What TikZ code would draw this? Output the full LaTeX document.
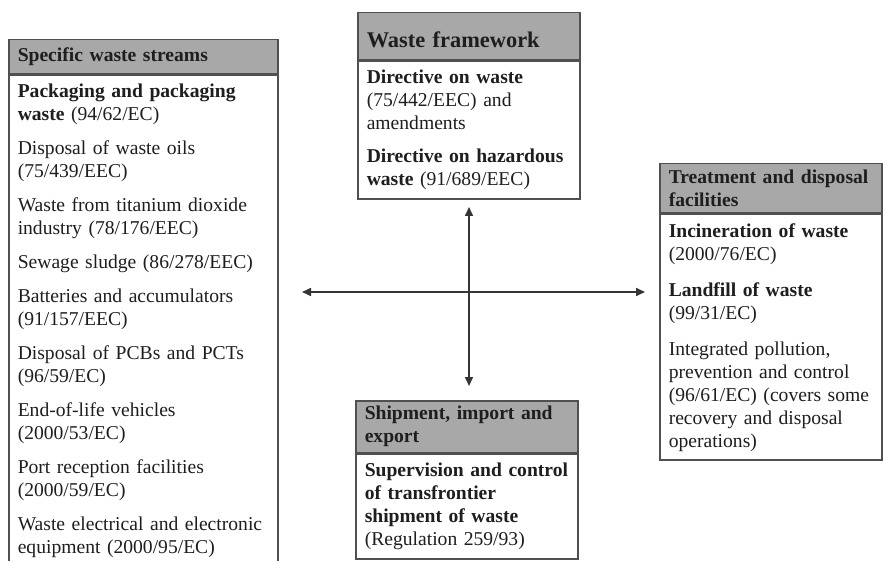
\documentclass[tikz,border=0pt]{standalone}
\usepackage{fontspec}
\setmainfont{Liberation Serif}
\usepackage{tikz}
\usetikzlibrary{arrows.meta,positioning}

\definecolor{boxline}{HTML}{505050}
\definecolor{headgray}{HTML}{A8A8A8}
\definecolor{inkgray}{HTML}{1E1E1E}
\hyphenpenalty=10000

\begin{document}
\begin{tikzpicture}[
    x=0.5pt, y=-0.5pt,
    text=inkgray,
    head/.style={draw=boxline, line width=0.75pt, fill=headgray, align=left,
        font=\fontsize{9.8}{11.5}\selectfont\bfseries, inner xsep=4.5pt, inner ysep=0pt},
    body/.style={draw=boxline, line width=0.75pt, fill=white, align=left,
        font=\fontsize{9.8}{11.5}\selectfont, inner xsep=4.5pt, inner ysep=4.5pt},
    wide/.style={text width=125.5pt},
    narrow/.style={text width=102pt},
    arrow/.style={{Triangle[length=4.5pt,width=4pt]}-{Triangle[length=4.5pt,width=4pt]}, line width=0.8pt, draw=inkgray!90}
]
    \useasboundingbox (0,0) rectangle (883,561);

    % Specific waste streams (runs off the bottom)
    \node[head, wide, anchor=north west, minimum height=17pt] (streamshead) at (8,39) {Specific waste streams};
    \node[body, wide, below=0pt of streamshead] (streams) {%
        \textbf{Packaging and packaging}\\\textbf{waste} (94/62/EC)\\[5.5pt]
        Disposal of waste oils\\(75/439/EEC)\\[5.5pt]
        Waste from titanium dioxide\\industry (78/176/EEC)\\[5.5pt]
        Sewage sludge (86/278/EEC)\\[5.5pt]
        Batteries and accumulators\\(91/157/EEC)\\[5.5pt]
        Disposal of PCBs and PCTs\\(96/59/EC)\\[5.5pt]
        End-of-life vehicles\\(2000/53/EC)\\[5.5pt]
        Port reception facilities\\(2000/59/EC)\\[5.5pt]
        Waste electrical and electronic\\equipment (2000/95/EC)\rule[-20pt]{0pt}{20pt}};

    % Waste framework
    \node[head, narrow, anchor=north west, font=\fontsize{11.2}{13}\selectfont\bfseries,
        text height=17.5pt, text depth=6pt] (frameworkhead) at (357,12) {Waste framework};
    \node[body, narrow, below=0pt of frameworkhead] (framework) {%
        \textbf{Directive on waste}\\(75/442/EEC) and\\amendments\\[5pt]
        \textbf{Directive on hazardous}\\\textbf{waste} (91/689/EEC)};

    % Treatment and disposal facilities
    \node[head, narrow, anchor=north west, minimum height=24.5pt] (facilitieshead) at (659,163) {Treatment and disposal\\facilities};
    \node[body, narrow, below=0pt of facilitieshead] (facilities) {%
        \textbf{Incineration of waste}\\(2000/76/EC)\\[6.5pt]
        \textbf{Landfill of waste}\\(99/31/EC)\\[6.5pt]
        Integrated pollution,\\prevention and control\\(96/61/EC) (covers some\\recovery and disposal\\operations)};

    % Shipment, import and export
    \node[head, narrow, anchor=north west, minimum height=26pt] (shipmenthead) at (355,400) {Shipment, import and\\export};
    \node[body, narrow, below=0pt of shipmenthead] (shipment) {%
        \textbf{Supervision and control}\\\textbf{of transfrontier}\\\textbf{shipment of waste}\\(Regulation 259/93)};

    % the cross of arrows
    \coordinate (westend) at (302,292);
    \coordinate (eastend) at (645,292);
    \coordinate (northend) at (469,207);
    \coordinate (southend) at (469,386);
    \draw[arrow] (westend) -- (eastend);
    \draw[arrow] (northend) -- (southend);
\end{tikzpicture}
\end{document}
